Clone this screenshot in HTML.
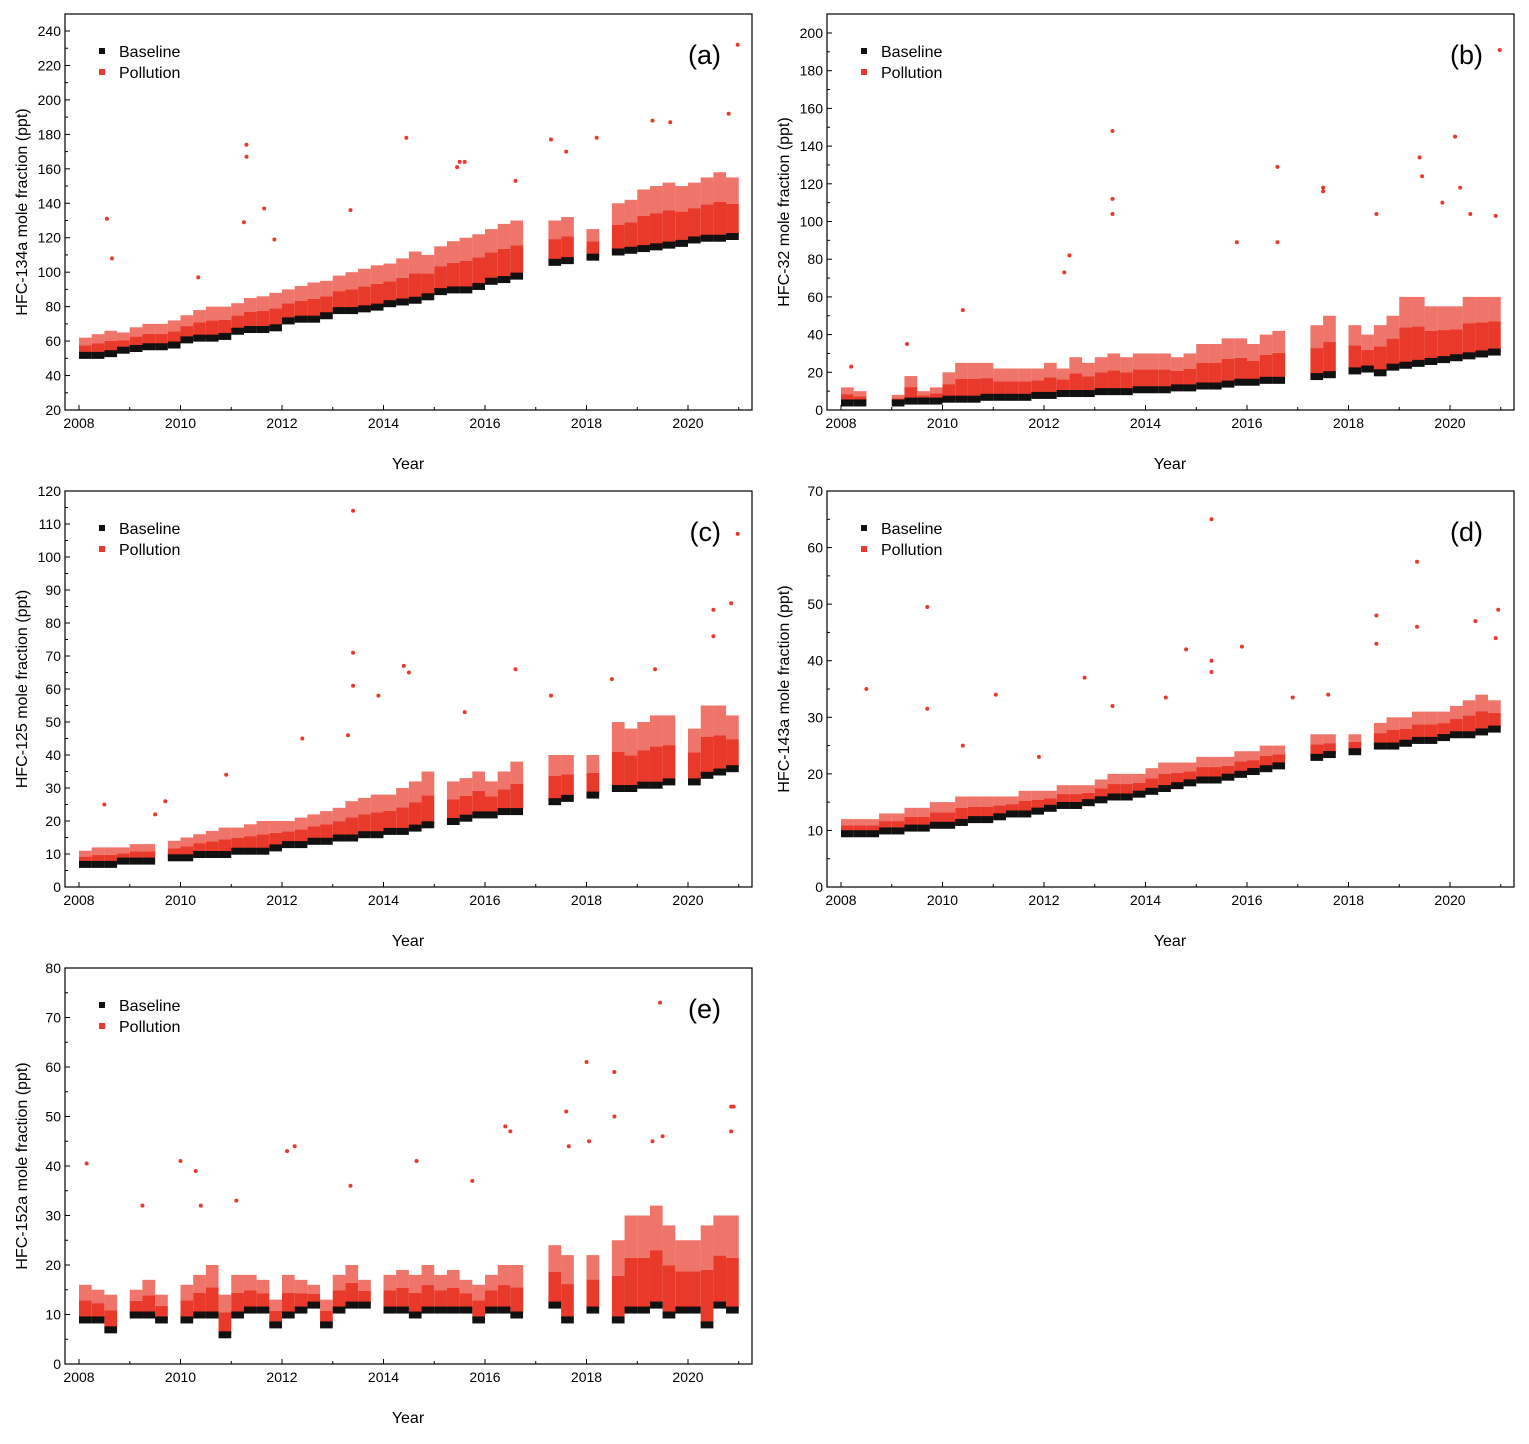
<!DOCTYPE html>
<html><head><meta charset="utf-8"><style>
html,body{margin:0;padding:0;background:#fff;}
svg text{font-family:"Liberation Sans",Arial,sans-serif;}
</style></head><body>
<svg id="chart" width="1529" height="1439" viewBox="0 0 1529 1439" xmlns="http://www.w3.org/2000/svg"></svg>
<script>
// Time bins: quarterly starting 2008.0 (52 bins)
const binStart = 2008, binStep = 0.25;
const N = null;
// Panel (a) HFC-134a
const baseA = [52,52,53,55, 56,57,57,58, 61,62,62,63, 66,67,67,68, 72,73,73,75, 78,78,79,80, 82,83,84,86, 89,90,90,92, 95,96,98,N, N,106,107,N, 109,N,112,113, 114,115,116,117, 119,120,120,121];
const upA  = [62,64,66,65, 68,70,70,72, 75,78,80,80, 82,85,86,88, 90,92,94,95, 98,100,102,104, 105,108,112,110, 115,118,120,122, 125,128,130,N, N,130,132,N, 125,N,140,142, 148,150,152,150, 152,155,158,155];
const outA = [[2008.55,131],[2008.65,108],[2011.3,174],[2011.3,167],[2011.25,129],[2011.65,137],[2011.85,119],[2014.45,178],[2015.5,164],[2015.45,161],[2015.6,164],[2017.3,177],[2017.6,170],[2018.2,178],[2019.3,188],[2019.65,187],[2020.8,192],[2020.98,232],[2010.35,97],[2013.35,136],[2016.6,153]];
// Panel (b) HFC-32
const baseB = [4,4,N,N, 4,5,5,5, 6,6,6,7, 7,7,7,8, 8,9,9,9, 10,10,10,11, 11,11,12,12, 13,13,14,15, 15,16,16,N, N,18,19,N, 21,22,20,23, 24,25,26,27, 28,29,30,31];
const upB  = [12,10,N,N, 8,18,10,12, 20,25,25,25, 22,22,22,22, 25,22,28,25, 28,30,28,30, 30,30,28,30, 35,35,38,38, 35,40,42,N, N,45,50,N, 45,40,45,50, 60,60,55,55, 55,60,60,60];
const outB = [[2008.2,23],[2009.3,35],[2010.4,53],[2012.4,73],[2012.5,82],[2013.35,148],[2013.35,112],[2013.35,104],[2015.8,89],[2016.6,129],[2016.6,89],[2017.5,118],[2017.5,116],[2018.55,104],[2019.4,134],[2019.45,124],[2020.1,145],[2020.2,118],[2019.85,110],[2020.4,104],[2020.98,191],[2020.9,103]];
// Panel (c) HFC-125
const baseC = [7,7,7,8, 8,8,N,9, 9,10,10,10, 11,11,11,12, 13,13,14,14, 15,15,16,16, 17,17,18,19, N,20,21,22, 22,23,23,N, N,26,27,N, 28,N,30,30, 31,31,32,N, 32,34,35,36];
const upC  = [11,12,12,12, 13,13,N,14, 15,16,17,18, 18,19,20,20, 20,21,22,23, 24,26,27,28, 28,30,32,35, N,32,33,35, 32,35,38,N, N,40,40,N, 40,N,50,48, 50,52,52,N, 48,55,55,52];
const outC = [[2008.5,25],[2009.5,22],[2009.7,26],[2010.9,34],[2012.4,45],[2013.3,46],[2013.4,71],[2013.4,61],[2013.4,114],[2013.9,58],[2014.4,67],[2014.5,65],[2015.6,53],[2016.6,66],[2017.3,58],[2018.5,63],[2019.35,66],[2020.5,84],[2020.5,76],[2020.85,86],[2020.98,107]];
// Panel (d) HFC-143a
const baseD = [9.5,9.5,9.5,10, 10,10.5,10.5,11, 11,11.5,12,12, 12.5,13,13,13.5, 14,14.5,14.5,15, 15.5,16,16,16.5, 17,17.5,18,18.5, 19,19,19.5,20, 20.5,21,21.5,N, N,23,23.5,N, 24,N,25,25, 25.5,26,26,26.5, 27,27,27.5,28];
const upD  = [12,12,12,13, 13,14,14,15, 15,16,16,16, 16,16,17,17, 17,18,18,18, 19,20,20,20, 21,22,22,22, 23,23,23,24, 24,25,25,N, N,27,27,N, 27,N,29,30, 30,31,31,31, 32,33,34,33];
const outD = [[2008.5,35],[2009.7,49.5],[2009.7,31.5],[2010.4,25],[2011.05,34],[2011.9,23],[2012.8,37],[2013.35,32],[2014.4,33.5],[2014.8,42],[2015.3,65],[2015.3,40],[2015.3,38],[2015.9,42.5],[2016.9,33.5],[2017.6,34],[2018.55,48],[2018.55,43],[2019.35,57.5],[2019.35,46],[2020.5,47],[2020.95,49],[2020.9,44]];
// Panel (e) HFC-152a
const baseE = [9,9,7,N, 10,10,9,N, 9,10,10,6, 10,11,11,8, 10,11,12,8, 11,12,12,N, 11,11,10,11, 11,11,11,9, 11,11,10,N, N,12,9,N, 11,N,9,11, 11,12,10,11, 11,8,12,11];
const upE  = [16,15,14,N, 15,17,14,N, 16,18,20,14, 18,18,17,13, 18,17,16,13, 18,20,17,N, 18,19,18,20, 18,19,17,16, 18,20,20,N, N,24,22,N, 22,N,25,30, 30,32,28,25, 25,28,30,30];
const outE = [[2008.15,40.5],[2009.25,32],[2010.0,41],[2010.3,39],[2010.4,32],[2011.1,33],[2012.1,43],[2012.25,44],[2013.35,36],[2014.65,41],[2015.75,37],[2016.4,48],[2016.5,47],[2017.6,51],[2017.65,44],[2018.0,61],[2018.05,45],[2018.55,59],[2018.55,50],[2019.5,46],[2019.3,45],[2019.45,73],[2020.85,52],[2020.9,52],[2020.85,47]];
const xTickYears = [2008,2010,2012,2014,2016,2018,2020];

const panels = [
 {id:'a',x0:65,y0:14,ymin:20,ymax:240,ystep:20,ytop:31,title:'HFC-134a mole fraction (ppt)',base:baseA,up:upA,out:outA},
 {id:'b',x0:827,y0:14,ymin:0,ymax:200,ystep:20,ytop:33,title:'HFC-32 mole fraction (ppt)',base:baseB,up:upB,out:outB},
 {id:'c',x0:65,y0:491,ymin:0,ymax:120,ystep:10,ytop:491,title:'HFC-125 mole fraction (ppt)',base:baseC,up:upC,out:outC},
 {id:'d',x0:827,y0:491,ymin:0,ymax:70,ystep:10,ytop:491,title:'HFC-143a mole fraction (ppt)',base:baseD,up:upD,out:outD},
 {id:'e',x0:65,y0:968,ymin:0,ymax:80,ystep:10,ytop:968,title:'HFC-152a mole fraction (ppt)',base:baseE,up:upE,out:outE}
];
const W=687,H=396;
const svg=document.getElementById('chart');
const NS='http://www.w3.org/2000/svg';
function mk(tag,attrs,parent){const e=document.createElementNS(NS,tag);for(const k in attrs)e.setAttribute(k,attrs[k]);(parent||svg).appendChild(e);return e;}

panels.forEach(p=>{
  const g=mk('g',{});
  
  
  const bottom=p.y0+H;
  const xs=t=>p.x0+14+(t-2008)*50.75;
  const ys=v=>bottom-(v-p.ymin)*(bottom-p.ytop)/(p.ymax-p.ymin);
  const clip=mk('clipPath',{id:'clip'+p.id},g);
  mk('rect',{x:p.x0,y:p.y0,width:W,height:H},clip);
  const dg=mk('g',{'clip-path':'url(#clip'+p.id+')'},g);
  for(let i=0;i<p.base.length;i++){
    const b=p.base[i],u=p.up[i];
    if(b===null||u===null)continue;
    const t=binStart+i*binStep;
    const x=xs(t),w=xs(t+binStep)-x;
    const mid=b+(u-b)*0.55;
    const r1=mk('rect',{x:x,y:ys(mid),width:w,height:ys(b)-ys(mid),fill:'#e8392b'},dg);
    
    
    const r2=mk('rect',{x:x,y:ys(u),width:w,height:ys(mid)-ys(u),fill:'#e8392b','fill-opacity':0.7},dg);
    
    
  }
  for(let i=0;i<p.base.length;i++){
    const b=p.base[i];
    if(b===null)continue;
    const t=binStart+i*binStep;
    const x=xs(t),w=xs(t+binStep)-x;
    const r=mk('rect',{x:x,y:ys(b)-3,width:w,height:7,fill:'#111'},dg);
    
    
  }
  p.out.forEach(o=>{
    const c=mk('circle',{cx:xs(o[0]),cy:ys(o[1]),r:2,fill:'#e8392b'},dg);
    
    
  });
  const fr=mk('rect',{x:p.x0,y:p.y0,width:W,height:H,fill:'none',stroke:'#000','stroke-width':1.2},g);
  
  
  for(let v=p.ymin;v<=p.ymax+1e-9;v+=p.ystep/2){
    const y=ys(v);
    const major=Math.abs(((v-p.ymin)/p.ystep)-Math.round((v-p.ymin)/p.ystep))<1e-6;
    mk('line',{x1:p.x0,x2:p.x0+(major?5:3),y1:y,y2:y,stroke:'#000','stroke-width':1},g);
    if(major){
      const t=mk('text',{x:p.x0-4,y:y+5,'text-anchor':'end','font-size':14},g);
      
      
      t.textContent=v;
    }
  }
  for(let yr=2008;yr<=2021;yr++){
    const x=xs(yr);
    mk('line',{x1:x,x2:x,y1:bottom,y2:bottom-(yr%2===0?5:3),stroke:'#000','stroke-width':1},g);
  }
  xTickYears.forEach(yr=>{
    const t=mk('text',{x:xs(yr),y:bottom+18,'text-anchor':'middle','font-size':14},g);
    
    
    t.textContent=yr;
  });
  const xt=mk('text',{x:p.x0+343,y:bottom+59,'text-anchor':'middle','font-size':16},g);
  
  
  xt.textContent='Year';
  const cy=p.y0+H/2;
  const yt=mk('text',{x:p.x0-38,y:cy,'text-anchor':'middle','font-size':16,transform:'rotate(-90 '+(p.x0-38)+' '+cy+')'},g);
  
  
  yt.textContent=p.title;
  const lg=mk('g',{},g);
  
  
  mk('rect',{x:p.x0+34,y:p.y0+34,width:6,height:6,fill:'#111'},lg);
  const l1=mk('text',{x:p.x0+54,y:p.y0+43,'font-size':16},lg);
  
  
  l1.textContent='Baseline';
  mk('rect',{x:p.x0+34,y:p.y0+55,width:6,height:6,fill:'#e8392b'},lg);
  const l2=mk('text',{x:p.x0+54,y:p.y0+64,'font-size':16},lg);
  
  
  l2.textContent='Pollution';
  const pl=mk('text',{x:p.x0+W-31,y:p.y0+50,'text-anchor':'end','font-size':27},g);
  
  
  pl.textContent='('+p.id+')';
});
</script>
</body></html>
